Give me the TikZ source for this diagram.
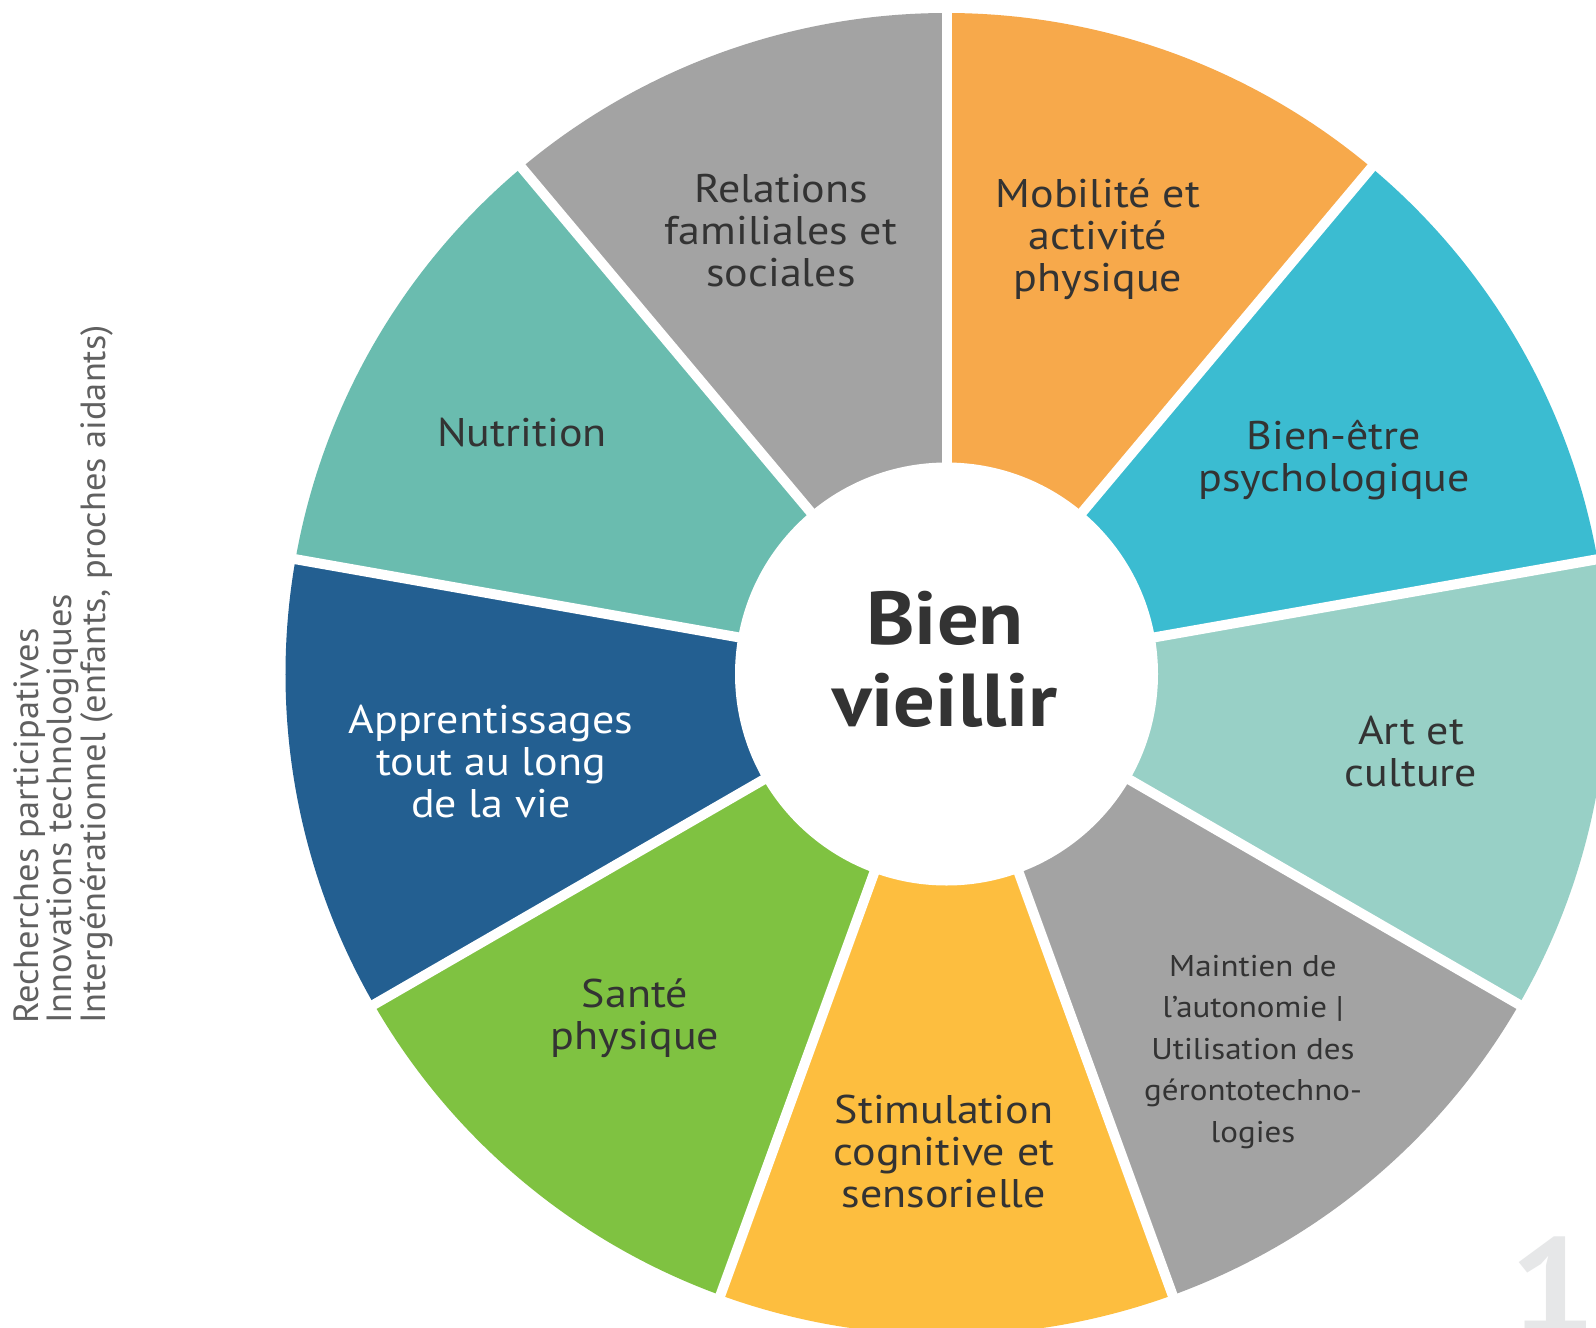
\documentclass[tikz,border=0pt]{standalone}
\usepackage{fontspec}
\setmainfont{PT Sans}[FakeStretch=1.1]
\newfontfamily\sidefont{PT Sans}[FakeStretch=1.04]
\definecolor{cgrey}{HTML}{A3A3A3}
\definecolor{corange}{HTML}{F7A94B}
\definecolor{ccyan}{HTML}{3BBCD1}
\definecolor{clteal}{HTML}{98D0C6}
\definecolor{cyellow}{HTML}{FDBE3F}
\definecolor{cgreen}{HTML}{7FC241}
\definecolor{cblue}{HTML}{235F91}
\definecolor{cteal}{HTML}{6ABCAF}
\definecolor{ctxt}{HTML}{333333}
\definecolor{cside}{HTML}{606060}
\definecolor{cone}{HTML}{E6E7E8}
\begin{document}
\begin{tikzpicture}[x=1pt,y=-1pt,
  lbl/.style={align=center, text=ctxt, inner sep=0pt, font=\fontsize{40}{42}\selectfont},
  gapline/.style={white, line width=10pt},
  wedgefill/.style={fill=#1}]
\useasboundingbox (0,0) rectangle (1596,1328);
\clip (0,0) rectangle (1596,1328);
\fill[white] (0,0) rectangle (1596,1328);
\coordinate (C) at (946.5,674);
% segments (visual centre angle / colour)
\foreach \a/\c in {110/cgrey,150/cteal,190/cblue,230/cgreen,270/cyellow,310/cgrey,350/clteal,30/ccyan,70/corange}{
  \fill[wedgefill=\c] (C) -- ++(-\a-20:661) arc[start angle=-\a-20, end angle=-\a+20, radius=661] -- cycle;
}
% white gaps
\foreach \b in {90,130,170,210,250,290,330,10,50}{
  \draw[gapline] (C) -- ++(-\b:720);
}
\fill[white] (C) circle[radius=211.5];
% centre title
\node[align=center, text=ctxt, inner sep=0pt, font=\bfseries\fontsize{75}{82}\selectfont] (title) at (945,659) {Bien\\vieillir};
% segment labels
\node[lbl] (relations) at (781,231) {Relations\\familiales et\\sociales};
\node[lbl] (mobilite) at (1098,239) {Mobilité et\\activité\\physique};
\node[lbl] (bienetre) at (1334,460) {Bien-être\\psychologique};
\node[lbl] (art) at (1411,752) {Art et\\culture};
\node[lbl, font=\fontsize{30}{41.5}\selectfont] (maintien) at (1253,1052) {Maintien de\\l’autonomie |\\Utilisation des\\gérontotechno-\\logies};
\node[lbl] (stimulation) at (944,1151) {Stimulation\\cognitive et\\sensorielle};
\node[lbl] (sante) at (635,1018) {Santé\\physique};
\node[lbl, text=white] (apprent) at (491,762) {Apprentissages\\tout au long\\de la vie};
\node[lbl] (nutrition) at (522,433) {Nutrition};
% side text
\node[rotate=90, anchor=north west, align=left, inner sep=0pt, text=cside, font=\sidefont\fontsize{35}{32.6}\selectfont] (side) at (14,1024) {Recherches participatives\\Innovations technologiques\\Intergénérationnel (enfants, proches aidants)};
% page number
\node[anchor=base, inner sep=0pt, text=cone, font=\bfseries\fontsize{140}{140}\selectfont] (pnum) at (1553,1336) {1};
\end{tikzpicture}
\end{document}
